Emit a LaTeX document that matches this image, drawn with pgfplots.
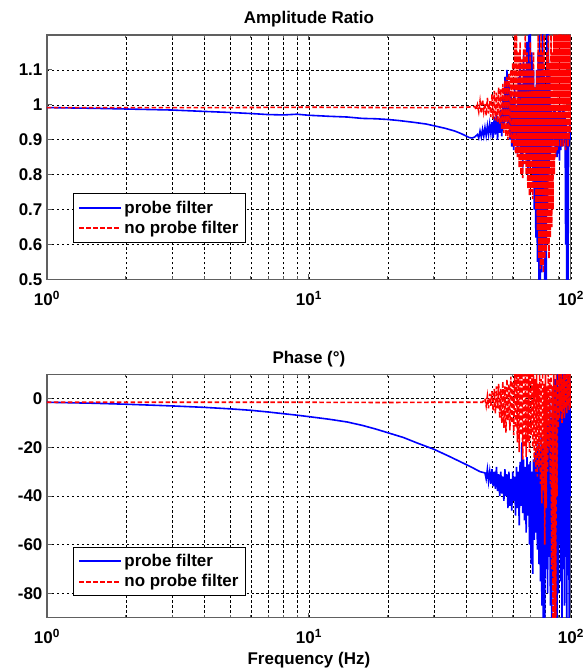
\documentclass[border=0pt]{standalone}
\usepackage{fontspec}
\setmainfont{Liberation Sans}
\usepackage{pgfplots}
\pgfplotsset{compat=1.18}

% amplitude ratio, probe filter
\pgfplotstableread{
f a
1 0.992
1.5 0.990
2 0.988
3 0.985
4 0.981
5 0.978
6 0.975
7 0.972
8 0.971
9 0.973
10 0.970
12 0.967
14 0.965
16 0.961
18 0.960
20 0.958
22 0.955
25 0.950
28 0.945
30 0.940
33 0.933
36 0.925
38 0.918
40 0.910
41 0.906
42 0.905
43 0.908
44 0.915
44.5 0.905
45 0.925
45.5 0.908
46 0.930
46.5 0.910
47 0.935
47.5 0.912
48 0.940
48.5 0.915
49 0.945
49.5 0.918
50 0.950
50.5 0.905
51 0.965
51.5 0.915
52 0.970
52.5 0.900
53 0.960
53.5 0.920
54 0.985
54.5 0.910
55 1.020
55.5 0.930
56 1.080
56.5 0.950
57 1.100
57.5 0.940
58 1.060
58.5 0.900
59 1.040
59.5 0.880
60 1.010
60.5 0.870
61 1.050
61.5 0.900
62 1.000
62.5 0.860
63 1.080
63.5 0.880
64 1.120
64.5 0.850
65 1.060
65.5 0.820
66 1.150
66.5 0.870
67 1.100
67.5 0.840
68 1.180
68.5 0.800
69 1.200
69.5 0.820
70 1.220
70.5 0.850
71 1.150
71.5 0.780
72 1.100
72.5 0.700
73 1.050
73.5 0.620
74 1.100
74.5 0.550
75 1.150
75.5 0.480
76 1.200
76.5 0.470
77 1.150
77.5 0.520
78 1.220
78.5 0.600
79 1.100
79.5 0.480
80 1.050
80.5 0.470
81 1.250
81.5 0.700
82 1.220
82.5 0.800
83 1.100
83.5 0.850
84 1.000
84.5 0.880
85 0.980
85.5 0.900
86 1.000
86.5 0.880
87 0.990
87.5 0.860
88 0.970
88.5 0.850
89 0.980
89.5 0.860
90 0.990
90.5 0.840
91 1.000
91.5 0.870
92 0.970
92.5 0.880
93 0.990
93.5 0.900
94 1.000
94.5 0.890
95 0.980
95.5 0.600
96 0.950
96.5 0.470
97 0.900
97.5 0.480
98 0.920
98.5 0.880
99 0.950
99.5 0.900
100 0.930
}\ampprobe

% amplitude ratio, no probe filter
\pgfplotstableread{
f a
1 0.992
5 0.992
10 0.993
20 0.992
30 0.992
40 0.993
43 0.995
43.5 0.985
44 1.000
44.5 0.980
45 1.010
45.5 0.975
46 1.015
46.5 0.980
47 1.005
47.5 0.970
48 1.020
48.5 0.975
49 1.010
49.5 0.965
50 1.030
50.5 0.960
51 1.040
51.5 0.955
52 1.035
52.5 0.950
53 1.050
53.5 0.945
54 1.045
54.5 0.930
55 1.060
55.5 0.920
56 1.070
56.5 0.910
57 1.080
57.5 0.900
58 1.090
58.5 0.905
59 1.100
59.5 0.890
60 1.120
60.5 0.880
61 1.200
61.5 0.860
62 1.250
62.5 0.850
63 1.150
63.5 0.820
64 1.180
64.5 0.800
65 1.130
65.5 0.790
66 1.160
66.5 0.830
67 1.200
67.5 0.800
68 1.150
68.5 0.760
69 1.120
69.5 0.740
70 1.180
70.5 0.750
71 1.100
71.5 0.730
72 1.150
72.5 0.760
73 1.050
73.5 0.700
74 1.100
74.5 0.640
75 1.200
75.5 0.560
76 1.150
76.5 0.530
77 1.250
77.5 0.540
78 1.150
78.5 0.520
79 1.200
79.5 0.560
80 1.100
80.5 0.580
81 1.150
81.5 0.600
82 1.200
82.5 0.560
83 1.120
83.5 0.620
84 1.200
84.5 0.650
85 1.150
85.5 0.700
86 1.250
86.5 0.800
87 1.200
87.5 0.850
88 1.250
88.5 0.870
89 1.200
89.5 0.880
90 1.250
90.5 0.900
91 1.220
91.5 0.880
92 1.250
92.5 0.900
93 1.200
93.5 0.880
94 1.250
94.5 0.900
95 1.200
95.5 0.870
96 1.250
96.5 0.900
97 1.200
97.5 0.880
98 1.220
98.5 0.900
99 1.200
99.5 0.920
100 1.100
}\ampnoprobe

% phase, probe filter
\pgfplotstableread{
f p
1 -1.5
1.5 -1.9
2 -2.3
3 -3.0
4 -3.6
5 -4.2
6 -4.8
7 -5.5
8 -6.2
9 -6.8
10 -7.4
12 -8.5
14 -9.6
16 -11
18 -12.5
20 -14
23 -16
26 -18.3
30 -20.8
34 -23.5
38 -26
42 -28.3
45 -30
47 -30.5
47.5 -33
48 -29
48.5 -34
49 -30
49.5 -35
50 -29
50.5 -36
51 -30
51.5 -37
52 -28
52.5 -38
53 -31
53.5 -40
54 -30
54.5 -39
55 -32
55.5 -42
56 -29
56.5 -40
57 -31
57.5 -45
58 -30
58.5 -44
59 -33
59.5 -46
60 -30
60.5 -42
61 -32
61.5 -48
62 -28
62.5 -45
63 -30
63.5 -52
64 -26
64.5 -44
65 -18
65.5 -47
66 -25
66.5 -50
67 -28
67.5 -55
68 -24
68.5 -48
69 -27
69.5 -60
70 -26
70.5 -68
71 -30
71.5 -72
72 -25
72.5 -58
73 -22
73.5 -55
74 -20
74.5 -62
75 -18
75.5 -68
76 -22
76.5 -75
77 -15
77.5 -85
78 -20
78.5 -95
79 -18
79.5 -95
80 -12
80.5 -70
81 -5
81.5 -80
82 -10
82.5 -65
83 0
83.5 -85
84 -8
84.5 -90
85 5
85.5 -75
86 -3
86.5 -85
87 8
87.5 -70
88 2
88.5 -95
89 10
89.5 -80
90 5
90.5 -60
91 12
91.5 -75
92 8
92.5 -95
93 12
93.5 -70
94 10
94.5 -85
95 12
95.5 -65
96 8
96.5 -95
97 12
97.5 -50
98 10
98.5 -95
99 8
99.5 -40
100 5
}\phaseprobe

% phase, no probe filter
\pgfplotstableread{
f p
1 -1.5
10 -1.5
20 -1.6
30 -1.5
40 -1.5
46 -1.5
47 0
47.5 -3
48 1
48.5 -4
49 2
49.5 -3
50 3
50.5 -5
51 4
51.5 -6
52 5
52.5 -4
53 6
53.5 -8
54 4
54.5 -10
55 7
55.5 -12
56 5
56.5 -14
57 8
57.5 -9
58 6
58.5 -13
59 9
59.5 -10
60 7
60.5 -15
61 10
61.5 -12
62 12
62.5 -18
63 10
63.5 -22
64 12
64.5 -15
65 12
65.5 -25
66 10
66.5 -20
67 12
67.5 -24
68 10
68.5 -18
69 12
69.5 -22
70 12
70.5 -15
71 10
71.5 -20
72 12
72.5 -26
73 8
73.5 -30
74 12
74.5 -32
75 6
75.5 -28
76 10
76.5 -35
77 8
77.5 -43
78 12
78.5 -38
79 6
79.5 -60
80 10
80.5 -45
81 5
81.5 -30
82 10
82.5 -20
83 8
83.5 -35
84 12
84.5 -70
85 5
85.5 -95
86 10
86.5 -95
87 6
87.5 -95
88 10
88.5 -40
89 8
89.5 -12
90 12
90.5 -8
91 10
91.5 -5
92 12
92.5 -10
93 8
93.5 -6
94 12
94.5 -8
95 10
95.5 -4
96 12
96.5 -6
97 10
97.5 -3
98 12
98.5 -5
99 10
99.5 -4
100 8
}\phasenoprobe

\newcommand{\fnt}{\fontsize{17}{20}\selectfont\bfseries}

\begin{document}
\begin{tikzpicture}
\begin{axis}[
  scale only axis,
  width=525pt, height=245pt,
  xmode=log,
  xmin=1, xmax=100,
  ymin=0.5, ymax=1.2,
  xtick={1,10,100},
  xticklabels={10\textsuperscript{0},10\textsuperscript{1},10\textsuperscript{2}},
  ytick={0.5,0.6,0.7,0.8,0.9,1,1.1},
  yticklabels={0.5,0.6,0.7,0.8,0.9,1,1.1},
  xmajorgrids, xminorgrids, ymajorgrids,
  grid style={black, line width=0.5pt, dash pattern=on 2.5pt off 2.5pt},
  minor grid style={black, line width=0.5pt, dash pattern=on 2.5pt off 2.5pt},
  axis line style={gray!75!black, line width=1.2pt},
  tick style={gray!75!black, line width=0.8pt},
  tick align=inside,
  major tick length=5pt, minor tick length=3pt,
  tick label style={font=\fnt},
  xticklabel style={yshift=-8pt},
  yticklabel style={xshift=-1pt},
  title={Amplitude Ratio},
  title style={font=\fnt, yshift=-2pt},
  legend cell align=left,
  legend style={draw=black, line width=0.8pt, fill=white, font=\fnt,
    inner xsep=5pt, inner ysep=5pt, row sep=3pt, anchor=south west,
    at={(axis description cs:0.05,0.15)}},
  legend image code/.code={\draw[#1, line width=2pt] (0pt,0pt) -- (42pt,0pt);},
]
\addplot[blue, solid, line width=1.6pt] table[x=f, y=a] {\ampprobe};
\addlegendentry{probe filter}
\addplot[red, line width=1.6pt, dash pattern=on 4.5pt off 2.5pt] table[x=f, y=a] {\ampnoprobe};
\addlegendentry{no probe filter}
\end{axis}

\begin{axis}[
  at={(0pt,-339pt)},
  scale only axis,
  width=525pt, height=244pt,
  xmode=log,
  xmin=1, xmax=100,
  ymin=-90, ymax=10,
  xtick={1,10,100},
  xticklabels={10\textsuperscript{0},10\textsuperscript{1},10\textsuperscript{2}},
  ytick={-80,-60,-40,-20,0},
  yticklabels={-80,-60,-40,-20,0},
  xmajorgrids, xminorgrids, ymajorgrids,
  grid style={black, line width=0.5pt, dash pattern=on 2.5pt off 2.5pt},
  minor grid style={black, line width=0.5pt, dash pattern=on 2.5pt off 2.5pt},
  axis line style={gray!75!black, line width=1.2pt},
  tick style={gray!75!black, line width=0.8pt},
  tick align=inside,
  major tick length=5pt, minor tick length=3pt,
  tick label style={font=\fnt},
  xticklabel style={yshift=-8pt},
  yticklabel style={xshift=-1pt},
  title={Phase (°)},
  title style={font=\fnt, yshift=-2pt},
  xlabel={Frequency (Hz)},
  xlabel style={font=\fnt, yshift=-1pt},
  legend cell align=left,
  legend style={draw=black, line width=0.8pt, fill=white, font=\fnt,
    inner xsep=5pt, inner ysep=5pt, row sep=3pt, anchor=south west,
    at={(axis description cs:0.05,0.09)}},
  legend image code/.code={\draw[#1, line width=2pt] (0pt,0pt) -- (42pt,0pt);},
]
\addplot[blue, solid, line width=1.6pt] table[x=f, y=p] {\phaseprobe};
\addlegendentry{probe filter}
\addplot[red, line width=1.6pt, dash pattern=on 4.5pt off 2.5pt] table[x=f, y=p] {\phasenoprobe};
\addlegendentry{no probe filter}
\end{axis}
\useasboundingbox (-47pt,-391pt) rectangle (541pt,280pt);
\end{tikzpicture}
\end{document}
